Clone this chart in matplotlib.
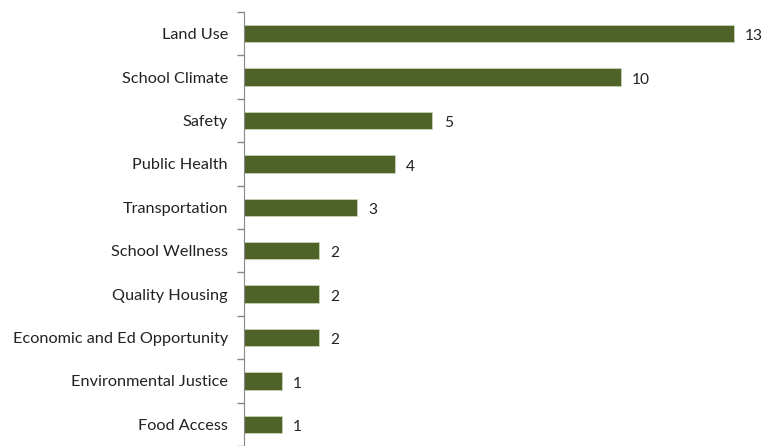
import matplotlib
matplotlib.use("Agg")
import matplotlib.pyplot as plt
import matplotlib.transforms as mtransforms

categories = ["Land Use", "School Climate", "Safety", "Public Health", "Transportation",
              "School Wellness", "Quality Housing", "Economic and Ed Opportunity",
              "Environmental Justice", "Food Access"]
counts = [13, 10, 5, 4, 3, 2, 2, 2, 1, 1]

plt.rcParams['font.family'] = ['Lato', 'DejaVu Sans']

fig = plt.figure(figsize=(7.76, 4.46), dpi=100)
ax = fig.add_axes([0.3144, 0.0, 0.68, 0.973])

ypos = list(range(len(categories)))
ax.barh(ypos, counts, height=0.4, color="#4f6228", edgecolor="#c9d3b8", linewidth=0.6)
for y, v in zip(ypos, counts):
    ax.text(v + 0.3, y + 0.06, str(v), va="center", ha="left", fontsize=11.2, color="#222222")

ax.set_ylim(len(categories) - 0.5, -0.5)
ax.set_xlim(0, 14)
ax.set_yticks(ypos)
ax.set_yticklabels(categories, fontsize=11.7, color="#222222")
# nudge category labels down a bit
shift = mtransforms.ScaledTranslation(0, -3 / 100, fig.dpi_scale_trans)
for lbl in ax.get_yticklabels():
    lbl.set_transform(lbl.get_transform() + shift)
ax.tick_params(axis="y", length=0, pad=11.5)
ax.set_yticks([i - 0.5 for i in range(len(categories) + 1)], minor=True)
ax.tick_params(axis="y", which="minor", length=5, color="#888888", width=1)
ax.set_xticks([])
for s in ["top", "right", "bottom"]:
    ax.spines[s].set_visible(False)
ax.spines["left"].set_color("#888888")

fig.savefig("out.png", dpi=100)
